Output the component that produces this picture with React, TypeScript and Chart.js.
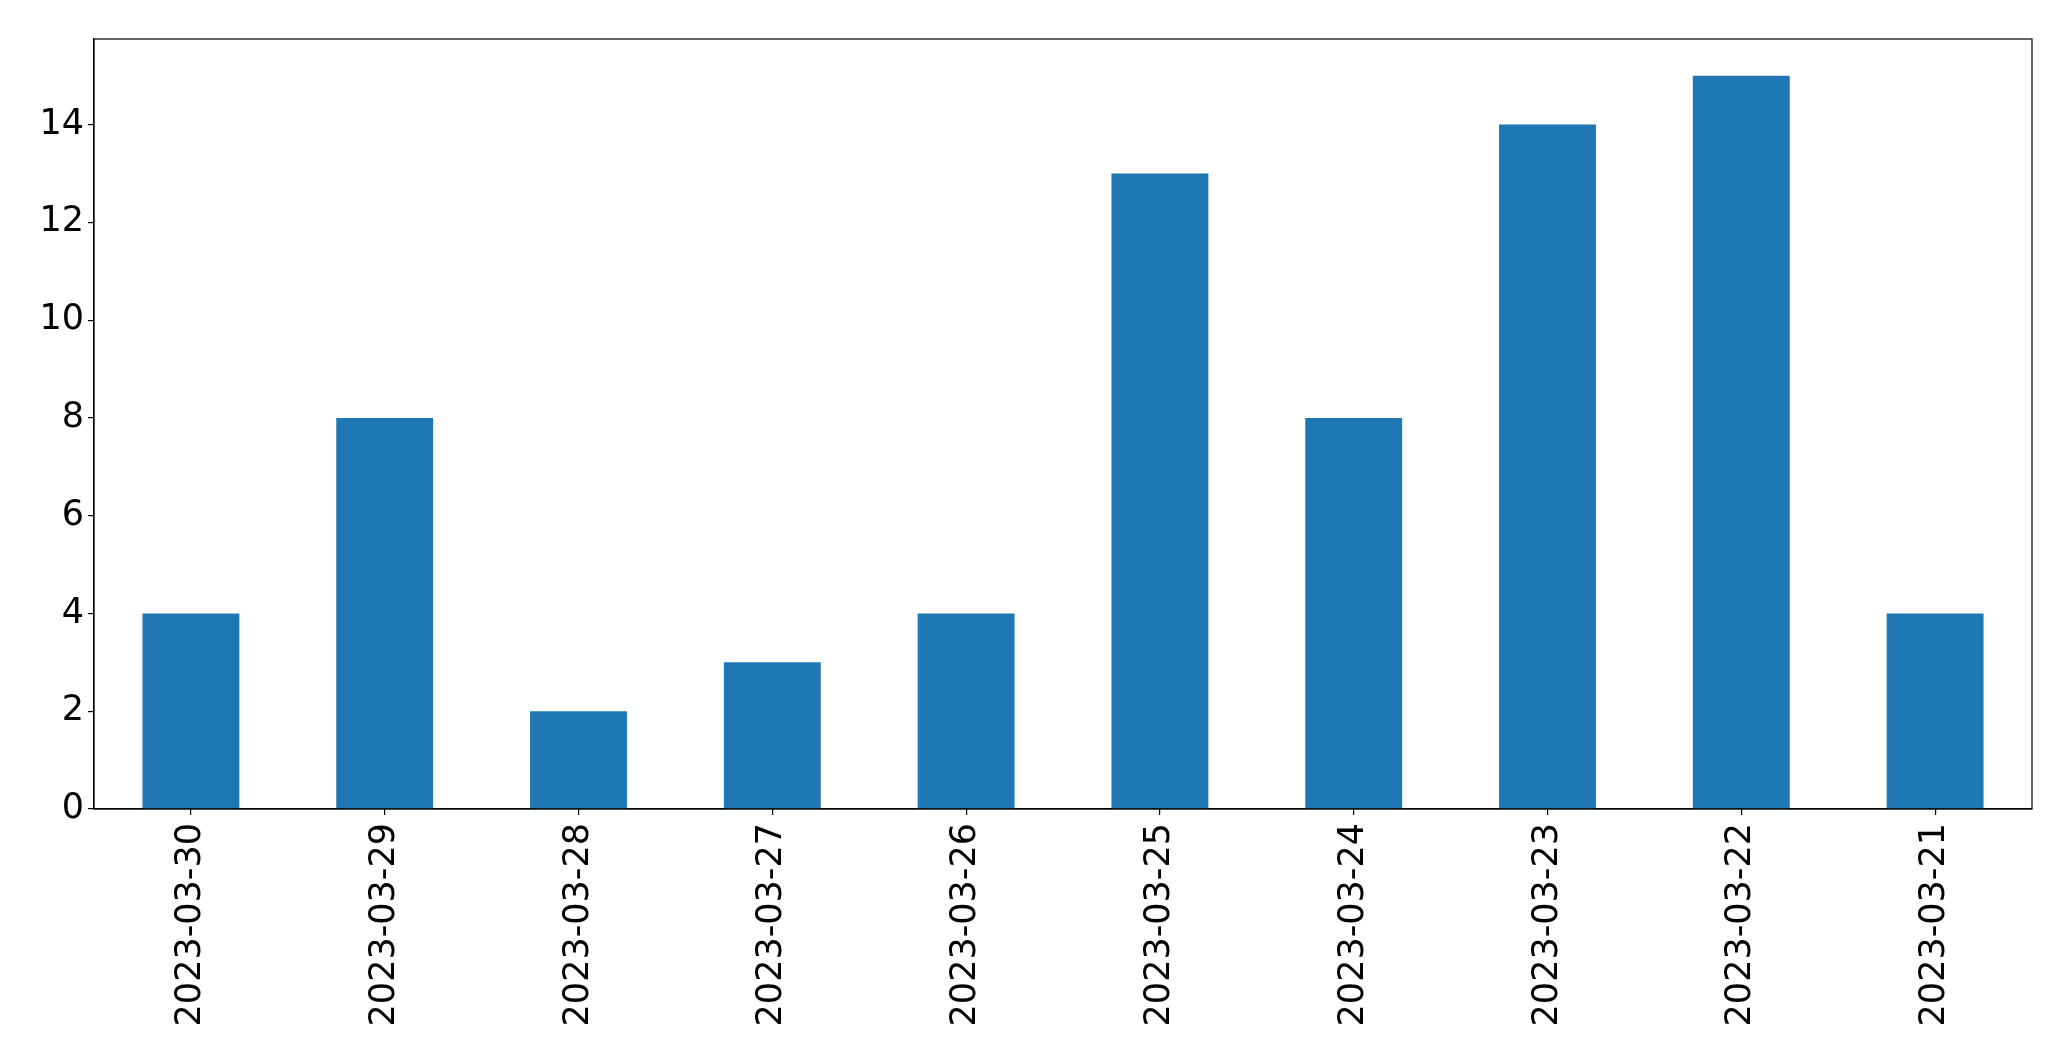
import React, { useEffect, useRef } from "react";
import { Chart, registerables } from "chart.js";

Chart.register(...registerables);

const categories = [
  "2023-03-30",
  "2023-03-29",
  "2023-03-28",
  "2023-03-27",
  "2023-03-26",
  "2023-03-25",
  "2023-03-24",
  "2023-03-23",
  "2023-03-22",
  "2023-03-21",
];
const counts = [4, 8, 2, 3, 4, 13, 8, 14, 15, 4];
const yMax = 15.75;
const yStep = 2;

const W = 2071;
const H = 1061;
const LEFT = 94;
const TOP = 39;
const RIGHT = 2032;
const BOTTOM = 809;

export default function App() {
  const ref = useRef<HTMLCanvasElement | null>(null);
  useEffect(() => {
    if (!ref.current) return;
    const frame = {
      id: "frame",
      afterDraw(chart: any) {
        const { ctx, chartArea } = chart;
        ctx.save();
        ctx.strokeStyle = "#000";
        ctx.lineWidth = 1.2;
        ctx.strokeRect(
          chartArea.left,
          chartArea.top,
          chartArea.right - chartArea.left,
          chartArea.bottom - chartArea.top
        );
        ctx.restore();
      },
    };
    const font = { family: "DejaVu Sans", size: 35 };
    const chart = new Chart(ref.current, {
      type: "bar",
      data: {
        labels: categories,
        datasets: [
          {
            data: counts,
            backgroundColor: "#1f77b4",
            borderWidth: 0,
            barPercentage: 0.5,
            categoryPercentage: 1.0,
          },
        ],
      },
      options: {
        responsive: false,
        animation: false,
        events: [],
        layout: { padding: { top: TOP, right: W - RIGHT, left: 0, bottom: 0 } },
        plugins: { legend: { display: false }, tooltip: { enabled: false } },
        scales: {
          x: {
            type: "category",
            offset: true,
            grid: {
              display: true,
              drawOnChartArea: false,
              drawTicks: true,
              tickLength: 6,
              color: "#000",
              offset: false,
              lineWidth: 1.2,
            },
            border: { display: true, color: "#000", width: 1.2 },
            ticks: {
              color: "#000",
              font,
              maxRotation: 90,
              minRotation: 90,
              autoSkip: false,
              padding: 8,
            },
            afterFit(scale: any) {
              scale.height = H - BOTTOM;
            },
          },
          y: {
            min: 0,
            max: yMax,
            grid: {
              display: true,
              drawOnChartArea: false,
              drawTicks: true,
              tickLength: 6,
              color: "#000",
              lineWidth: 1.2,
            },
            border: { display: true, color: "#000", width: 1.2 },
            ticks: {
              color: "#000",
              font,
              stepSize: yStep,
              includeBounds: false,
              padding: 4,
            },
            afterFit(scale: any) {
              scale.width = LEFT;
            },
          },
        },
      },
      plugins: [frame],
    });
    return () => chart.destroy();
  }, []);
  return (
    <div style={{ position: "fixed", left: 0, top: 0, width: W, height: H, background: "#fff" }}>
      <canvas ref={ref} width={W} height={H} style={{ width: W, height: H, display: "block" }} />
    </div>
  );
}
